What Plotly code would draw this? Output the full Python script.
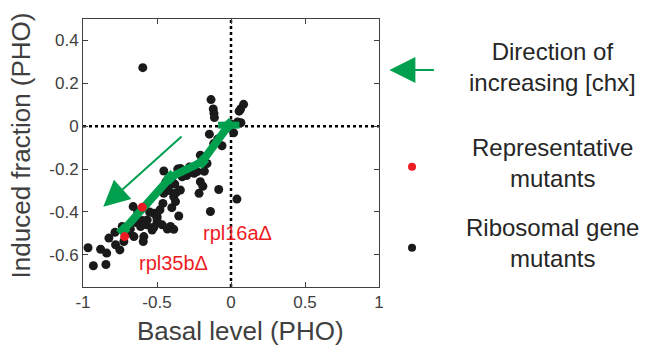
import plotly.graph_objects as go

# ---- data ----
basal = [-0.596, -0.135, -0.12, -0.115, -0.112, 0.085, 0.065, 0.055, 0.067, 0.045,
         -0.004, -0.03, 0.018, -0.146, -0.117, -0.061, -0.09, -0.207, -0.19, -0.162,
         -0.229, -0.18, -0.083, 0.040, -0.139, -0.207, -0.216, -0.19, -0.25, -0.28,
         -0.30, -0.454, -0.342, -0.36, -0.330, -0.409, -0.38, -0.44, -0.454, -0.387,
         -0.342, -0.375, -0.42, -0.353, -0.521, -0.50, -0.566, -0.499, -0.465, -0.409,
         -0.387, -0.43, -0.533, -0.611, -0.589, -0.656, -0.593, -0.661, -0.63, -0.55,
         -0.57, -0.52, -0.60, -0.735, -0.70, -0.784, -0.825, -0.780, -0.751, -0.881,
         -0.840, -0.966, -0.930, -0.845, -0.724, -0.68, -0.64, -0.48, -0.46, -0.40,
         -0.37, -0.40, -0.50]
induced = [0.273, 0.124, 0.08, 0.06, 0.04, 0.102, 0.08, 0.07, 0.016, 0.02,
           0.012, -0.01, -0.031, -0.037, -0.081, -0.091, -0.06, -0.135, -0.15, -0.174,
           -0.212, -0.21, -0.295, -0.340, -0.398, -0.259, -0.313, -0.28, -0.22, -0.19,
           -0.23, -0.209, -0.197, -0.20, -0.236, -0.267, -0.27, -0.26, -0.313, -0.329,
           -0.298, -0.352, -0.30, -0.419, -0.406, -0.42, -0.437, -0.445, -0.460, -0.468,
           -0.481, -0.48, -0.484, -0.468, -0.515, -0.515, -0.538, -0.375, -0.40, -0.40,
           -0.46, -0.47, -0.44, -0.468, -0.50, -0.495, -0.522, -0.553, -0.577, -0.574,
           -0.592, -0.567, -0.651, -0.645, -0.538, -0.48, -0.45, -0.39, -0.36, -0.38,
           -0.31, -0.24, -0.43]

chx_basal = [-0.015, -0.196, -0.409, -0.728]
chx_induced = [0.005, -0.166, -0.238, -0.486]
chx_err = [0.072, 0, 0, 0]

rep_basal = [-0.600, -0.719]
rep_induced = [-0.378, -0.515]
rep_names = ["rpl16a\u0394", "rpl35b\u0394"]
rep_label_x = [0.046, -0.389]
rep_label_y = [-0.499, -0.638]

xtick_vals = [-1, -0.5, 0, 0.5, 1]
xtick_text = ["-1", "-0.5", "0", "0.5", "1"]
ytick_vals = [0.4, 0.2, 0, -0.2, -0.4, -0.6]
ytick_text = ["0.4", "0.2", "0", "-0.2", "-0.4", "-0.6"]

GREEN = "#00a04f"
RED = "#ed1c24"
BLACK = "#1a1a1a"
FONT = "Liberation Sans, Arial, sans-serif"
TXT = "#262626"

fig = go.Figure()

# dotted zero lines
fig.add_shape(type="line", x0=0, x1=0, y0=-0.75, y1=0.5, xref="x", yref="y",
              line=dict(color="black", width=2.5, dash="dot"), layer="below")
fig.add_shape(type="line", x0=-1, x1=1, y0=0, y1=0, xref="x", yref="y",
              line=dict(color="black", width=2.5, dash="dot"), layer="below")

fig.add_trace(go.Scatter(x=basal, y=induced, mode="markers",
                         marker=dict(color=BLACK, size=9), showlegend=False))
fig.add_trace(go.Scatter(x=chx_basal, y=chx_induced, mode="lines+markers",
                         line=dict(color=GREEN, width=8),
                         marker=dict(color=GREEN, size=11, symbol="diamond"),
                         error_x=dict(type="data", array=chx_err, color=GREEN,
                                      thickness=7, width=0),
                         showlegend=False))
fig.add_trace(go.Scatter(x=rep_basal, y=rep_induced, mode="markers",
                         marker=dict(color=RED, size=9), showlegend=False))

for name, lx, ly in zip(rep_names, rep_label_x, rep_label_y):
    fig.add_annotation(x=lx, y=ly, xref="x", yref="y", text=name, showarrow=False,
                       font=dict(family=FONT, size=20, color=RED))

# in-plot arrow
fig.add_annotation(x=-0.863, y=-0.376, ax=-0.324, ay=-0.042, xref="x", yref="y",
                   axref="x", ayref="y", text="", showarrow=True,
                   arrowhead=2, arrowsize=2.6, arrowwidth=2, arrowcolor=GREEN)

# axis titles
fig.add_annotation(x=0.533, y=-0.165, xref="paper", yref="paper", text="Basal level (PHO)",
                   showarrow=False, yanchor="middle",
                   font=dict(family=FONT, size=26, color="#404040"))
fig.add_annotation(x=-0.208, y=0.53, xref="paper", yref="paper",
                   text="Induced fraction (PHO)", textangle=-90, showarrow=False,
                   xanchor="center", yanchor="middle",
                   font=dict(family=FONT, size=26, color="#404040"))

# legend
def px2x(px):
    return (px - 83) / 296.6

def py2y(py):
    return (287 - py) / 268

fig.add_annotation(x=px2x(390), y=py2y(70), ax=46, ay=0, xref="paper", yref="paper",
                   text="", showarrow=True, arrowhead=2, arrowsize=2.6, arrowwidth=2,
                   arrowcolor=GREEN)
for txt, cy in [("Direction of<br>increasing [chx]", 66.7),
                ("Representative<br>mutants", 163),
                ("Ribosomal gene<br>mutants", 243)]:
    fig.add_annotation(x=px2x(553), y=py2y(cy), xref="paper", yref="paper", text=txt,
                       showarrow=False, align="center", xanchor="center", yanchor="middle",
                       font=dict(family=FONT, size=24, color=TXT))
for col, cy in [(RED, 166.7), (BLACK, 247.7)]:
    fig.add_shape(type="circle", xref="paper", yref="paper", xsizemode="pixel",
                  ysizemode="pixel", xanchor=px2x(412.7), yanchor=py2y(cy),
                  x0=-4, x1=4, y0=-4, y1=4, fillcolor=col, line=dict(width=0))

axis_common = dict(showgrid=False, zeroline=False, showline=True, linecolor="#404040",
                   linewidth=1, mirror="ticks", ticks="inside", ticklen=5,
                   tickcolor="#404040",
                   tickfont=dict(family=FONT, size=17, color="#404040"))
fig.update_xaxes(range=[-1, 1], tickvals=xtick_vals, ticktext=xtick_text, **axis_common)
fig.update_yaxes(range=[-0.75, 0.5], tickvals=ytick_vals, ticktext=ytick_text, **axis_common)

fig.update_layout(width=651, height=347, margin=dict(l=83, r=272, t=19, b=60),
                  plot_bgcolor="white", paper_bgcolor="white", showlegend=False)

fig.write_html("out.html")
